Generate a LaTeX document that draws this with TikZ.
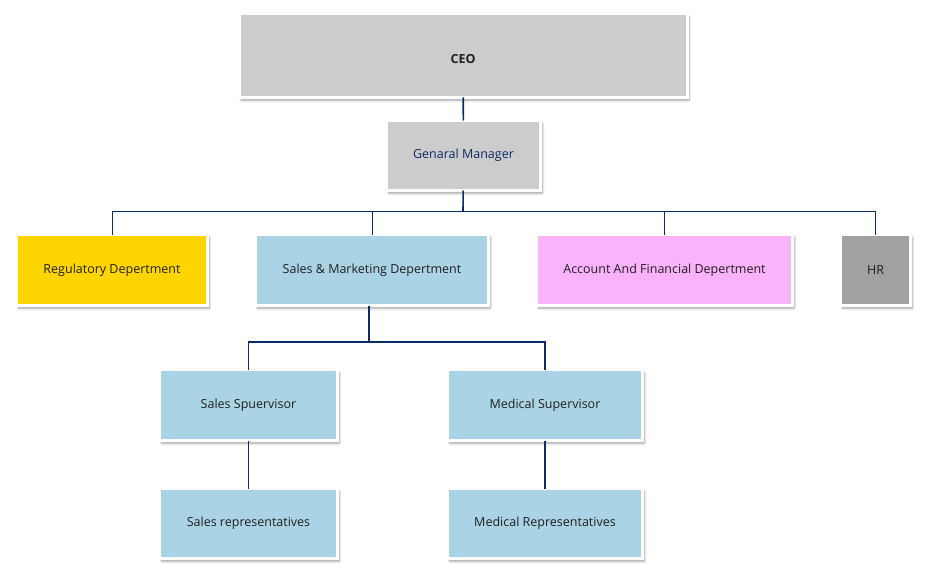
\documentclass[tikz,border=0pt]{standalone}
\usepackage{fontspec}
\setmainfont{Open Sans}
\usetikzlibrary{positioning, shadows.blur}

\definecolor{linenavy}{HTML}{0C2A66}
\definecolor{boxgray}{HTML}{CCCCCC}
\definecolor{hrgray}{HTML}{A1A1A1}
\definecolor{regyellow}{HTML}{FFD500}
\definecolor{salesblue}{HTML}{ABD3E6}
\definecolor{accpink}{HTML}{FAB2FA}

\begin{document}
\begin{tikzpicture}[x=1pt, y=-1pt,
    box/.style={draw=white, line width=3pt, outer sep=0pt, inner sep=2pt,
        text=black!88, font=\fontsize{12.5}{14}\selectfont,
        blur shadow={shadow xshift=2pt, shadow yshift=-3pt, shadow blur steps=6, shadow opacity=35}},
    link/.style={draw=linenavy, line width=1.6pt},
    thinlink/.style={draw=linenavy, line width=0.9pt}]
    \useasboundingbox (0,0) rectangle (930,578);

    \node[box, fill=boxgray, minimum width=448pt, minimum height=84pt,
        label={[text=black!88, font=\fontsize{12.5}{14}\selectfont\bfseries, yshift=-3.5pt]center:CEO}] (ceo) at (463,55.5) {};
    \node[box, fill=boxgray, minimum width=154pt, minimum height=70pt, text=linenavy] (gm) at (463.5,155.5) {Genaral Manager};

    \node[box, fill=regyellow, minimum width=191pt, minimum height=71pt] (reg) at (112,270) {Regulatory Depertment};
    \node[box, fill=salesblue, minimum width=233pt, minimum height=71pt] (sales) at (372,270) {Sales \& Marketing Depertment};
    \node[box, fill=accpink, minimum width=256pt, minimum height=71pt] (acc) at (664.5,270) {Account And Financial Depertment};
    \node[box, fill=hrgray, minimum width=70pt, minimum height=71pt] (hr) at (875.5,270) {HR};

    \node[box, fill=salesblue, minimum width=178pt, minimum height=71pt] (ssup) at (248.5,405) {Sales Spuervisor};
    \node[box, fill=salesblue, minimum width=195pt, minimum height=71pt] (msup) at (545,405) {Medical Supervisor};
    \node[box, fill=salesblue, minimum width=178pt, minimum height=70pt, below=48pt of ssup] (srep) {Sales representatives};
    \node[box, fill=salesblue, minimum width=195pt, minimum height=70pt, below=48pt of msup] (mrep) {Medical Representatives};

    \coordinate (bus) at (463,211.5);
    \coordinate (sbus) at (369,342);

    \draw[link] (ceo) -- (gm);
    \draw[link] (gm) -- (bus);
    \foreach \n in {reg, sales, acc, hr}
        \draw[thinlink] (bus) -| (\n.north);

    \draw[link] (sales.south -| sbus) -- (sbus);
    \foreach \n in {ssup, msup}
        \draw[link] (sbus) -| (\n.north);
    \draw[link] (ssup) -- (srep);
    \draw[link] (msup) -- (mrep);

\end{tikzpicture}
\end{document}
